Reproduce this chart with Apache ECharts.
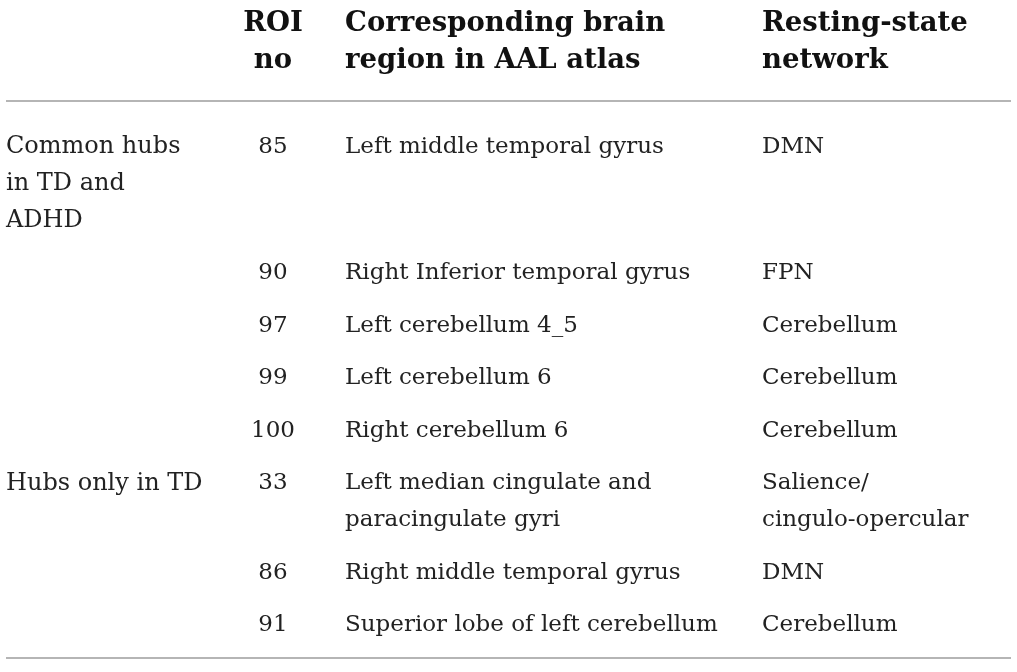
<!DOCTYPE html>
<html lang="en">
<head>
    <meta charset="UTF-8">
    <title>Hub regions</title>
    <script src="https://cdn.jsdelivr.net/npm/echarts@6/dist/echarts.min.js"></script>
    <style>
        html, body { margin: 0; padding: 0; background: #fff; }
        #main { width: 1017px; height: 672px; }
    </style>
</head>
<body>
<div id="main"></div>
<script type="text/javascript">
// table content
var headers = ['', 'ROI\nno', 'Corresponding brain\nregion in AAL atlas', 'Resting-state\nnetwork'];
var groups = ['Common hubs\nin TD and\nADHD', '', '', '', '', 'Hubs only in TD', '', ''];
var roiNo = ['85', '90', '97', '99', '100', '33', '86', '91'];
var regions = [
    'Left middle temporal gyrus',
    'Right Inferior temporal gyrus',
    'Left cerebellum 4_5',
    'Left cerebellum 6',
    'Right cerebellum 6',
    'Left median cingulate and\nparacingulate gyri',
    'Right middle temporal gyrus',
    'Superior lobe of left cerebellum'
];
var networks = ['DMN', 'FPN', 'Cerebellum', 'Cerebellum', 'Cerebellum', 'Salience/\ncingulo-opercular', 'DMN', 'Cerebellum'];

var FONT = '"DejaVu Serif", "Liberation Serif", serif';
var colX = [6, 273, 345, 762];
var colAlign = ['left', 'center', 'left', 'left'];
var LH = 37;

function lines(s) { return s.split('\n').length; }

var els = [];
// header
headers.forEach(function (h, c) {
    if (!h) return;
    els.push({
        type: 'text', x: colX[c], y: 24 - LH / 2,
        style: {
            text: h, font: 'bold 27.5px ' + FONT, fill: '#111',
            align: colAlign[c], verticalAlign: 'top', lineHeight: LH
        }
    });
});
// rules
[101, 658].forEach(function (y) {
    els.push({ type: 'line', shape: { x1: 6, y1: y, x2: 1011, y2: y },
        style: { stroke: '#b5b5b5', lineWidth: 2 } });
});
// body
var y = 147;
for (var i = 0; i < roiNo.length; i++) {
    var cells = [groups[i], roiNo[i], regions[i], networks[i]];
    var n = 1;
    cells.forEach(function (t, c) {
        n = Math.max(n, lines(t));
        if (!t) return;
        els.push({
            type: 'text', x: colX[c], y: y - LH / 2,
            style: {
                text: t, font: (c === 0 ? '24px ' : '23px ') + FONT, fill: '#222',
                align: colAlign[c], verticalAlign: 'top', lineHeight: LH
            }
        });
    });
    y += (n - 1) * LH + 52.5;
}

var chart = echarts.init(document.getElementById('main'));
chart.setOption({
    animation: false,
    graphic: { elements: els }
});
</script>
</body>
</html>
